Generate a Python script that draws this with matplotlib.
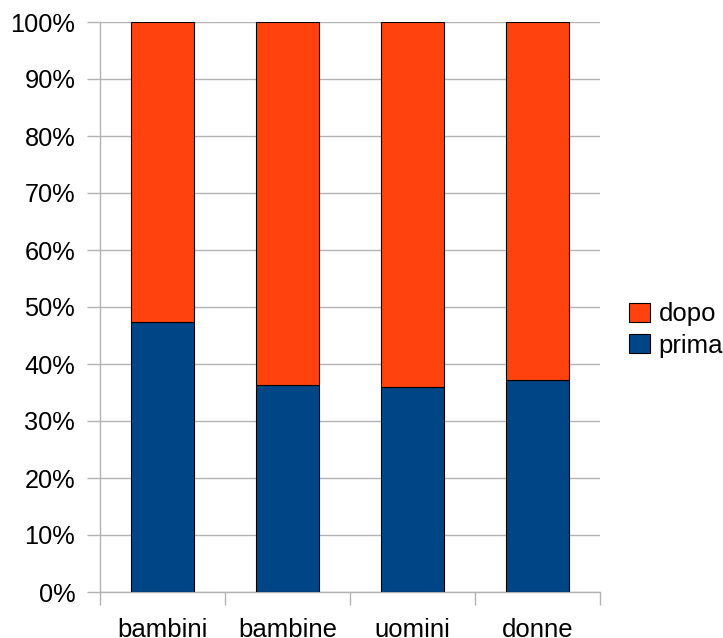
import matplotlib.pyplot as plt
import numpy as np
from matplotlib.ticker import FixedLocator, PercentFormatter

plt.rcParams['font.family'] = ['Liberation Sans', 'DejaVu Sans']

categories = ['bambini', 'bambine', 'uomini', 'donne']
prima = [47.4, 36.3, 36.0, 37.2]
dopo = [100 - p for p in prima]

blue = '#004586'
orange = '#ff420e'
grid_col = '#b3b3b3'

fig = plt.figure(figsize=(7.23, 6.38), dpi=100)
ax = fig.add_axes([100 / 723, 46 / 638, 500 / 723, 570 / 638])

x = np.arange(len(categories))
b1 = ax.bar(x, prima, width=0.5, color=blue, edgecolor='black', linewidth=0.8, zorder=3, label='prima')
b2 = ax.bar(x, dopo, bottom=prima, width=0.5, color=orange, edgecolor='black', linewidth=0.8, zorder=3, label='dopo')

ax.set_xlim(-0.5, len(categories) - 0.5)
ax.set_ylim(0, 100)
ax.set_yticks(np.arange(0, 101, 10))
ax.yaxis.set_major_formatter(PercentFormatter(decimals=0))
ax.grid(axis='y', color=grid_col, linewidth=1, zorder=0)

ax.set_xticks(x)
ax.set_xticklabels(categories)
ax.xaxis.set_minor_locator(FixedLocator(np.arange(-0.5, len(categories), 1)))
ax.tick_params(axis='x', which='major', length=0, pad=19, labelsize=18.5)
ax.tick_params(axis='x', which='minor', length=9, color=grid_col, width=1)
ax.tick_params(axis='y', length=9.4, color=grid_col, width=1, pad=8.5, labelsize=18.3)

for s in ['top', 'right']:
    ax.spines[s].set_visible(False)
for s in ['left', 'bottom']:
    ax.spines[s].set_color(grid_col)
    ax.spines[s].set_linewidth(1)

fig.legend([b2, b1], ['dopo', 'prima'], loc='center left',
           bbox_to_anchor=(629 / 723, 1 - 330 / 638), frameon=False,
           fontsize=18.5, handlelength=0.8, handleheight=0.8,
           handletextpad=0.35, labelspacing=0.28, borderpad=0, borderaxespad=0)

fig.savefig('out.png', dpi=100)
